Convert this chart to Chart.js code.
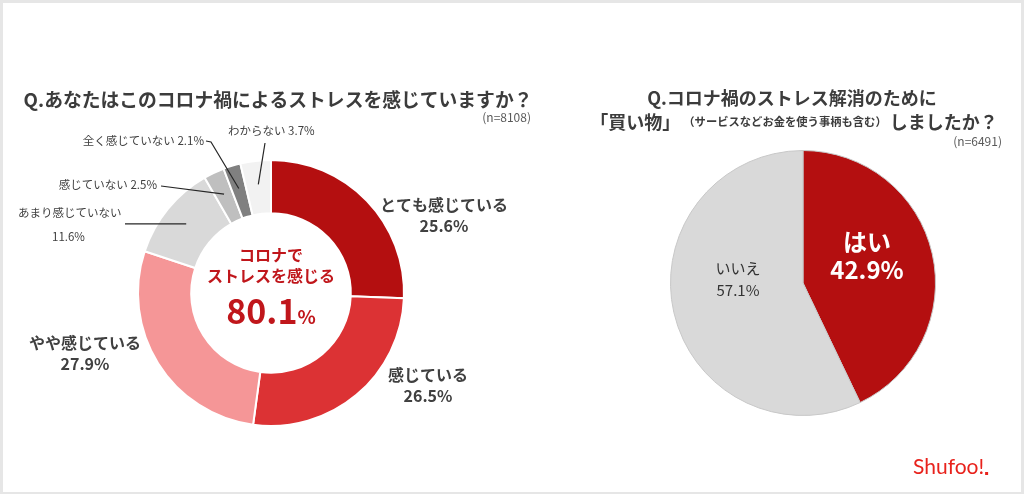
<!DOCTYPE html>
<html><head><meta charset="utf-8">
<script src="https://cdn.jsdelivr.net/npm/chart.js@4/dist/chart.umd.min.js"></script>
<style>
html,body{margin:0;padding:0;background:#fff;}
#wrap{position:relative;width:1024px;height:494px;overflow:hidden;}
#frame{position:absolute;left:0;top:0;width:1018px;height:489px;border:3px solid #e6e6e6;border-right-width:3px;}
canvas{position:absolute;left:0;top:0;}
</style></head>
<body><div id="wrap"><div id="frame"></div>
<canvas id="c1" width="1024" height="494"></canvas>
<canvas id="c2" width="1024" height="494"></canvas></div>
<script>
// ---- data ----
const stressLabels = ['とても感じている','感じている','やや感じている','あまり感じていない','感じていない','全く感じていない','わからない'];
const stressValues = [25.6, 26.5, 27.9, 11.6, 2.5, 2.1, 3.7];
const stressTotal = '80.1';
const shopLabels = ['はい','いいえ'];
const shopValues = [42.9, 57.1];
const title1 = 'Q.あなたはこのコロナ禍によるストレスを感じていますか？';
const n1 = '(n=8108)';
const title2a = 'Q.コロナ禍のストレス解消のために';
const title2b = ['「買い物」','（サービスなどお金を使う事柄も含む）','しましたか？'];
const n2 = '(n=6491)';

const FONT = '"Noto Sans CJK JP","Noto Sans",sans-serif';
const stressColors = ['#b40f10','#dc3234','#f59697','#d9d9d9','#bfbfbf','#808080','#f2f2f2'];
const shopColors = ['#b40f10','#d9d9d9'];
const TXT = '#404040';

function pct(v){return v.toFixed(1)+'%';}

function arcPoint(arc, frac, rr){
  const a = arc.startAngle + (arc.endAngle-arc.startAngle)*frac;
  return {x: arc.x + Math.cos(a)*rr, y: arc.y + Math.sin(a)*rr};
}

const donutText = {
  id:'donutText',
  afterDraw(chart){
    const ctx = chart.ctx;
    const arcs = chart.getDatasetMeta(0).data;
    ctx.save();
    ctx.textBaseline='middle';
    // titles
    ctx.fillStyle='#3c3c3c';
    ctx.font='bold 18.8px '+FONT;
    ctx.textAlign='center';
    ctx.fillText(title1, 278, 100);
    ctx.font='12px '+FONT; ctx.fillStyle='#595959'; ctx.textAlign='right';
    ctx.fillText(n1, 531, 117);
    // big labels
    ctx.fillStyle=TXT; ctx.textAlign='center';
    const big = [
      {i:0, x:444, y:205},
      {i:1, x:428, y:375},
      {i:2, x:85, y:343}
    ];
    ctx.font='bold 16px '+FONT;
    big.forEach(b=>{
      ctx.fillText(stressLabels[b.i], b.x, b.y);
      ctx.fillText(pct(stressValues[b.i]), b.x, b.y+21);
    });
    // small labels with leader lines
    ctx.font='11.5px '+FONT;
    ctx.strokeStyle='#262626'; ctx.lineWidth=1.2;
    const rMid = (arcs[0].innerRadius+arcs[0].outerRadius)/2 + 3;
    // あまり感じていない
    ctx.textAlign='left';
    ctx.fillText(stressLabels[3], 18, 213);
    ctx.fillText(pct(stressValues[3]), 52, 237);
    let p = arcPoint(arcs[3], 0.5, rMid);
    ctx.beginPath(); ctx.moveTo(125, p.y); ctx.lineTo(p.x, p.y); ctx.stroke();
    // 感じていない
    ctx.textAlign='right';
    ctx.fillText(stressLabels[4]+' '+pct(stressValues[4]), 157, 185);
    p = arcPoint(arcs[4], 0.5, rMid);
    ctx.beginPath(); ctx.moveTo(161, 186); ctx.lineTo(p.x, p.y); ctx.stroke();
    // 全く感じていない
    ctx.fillText(stressLabels[5]+' '+pct(stressValues[5]), 204, 141);
    p = arcPoint(arcs[5], 0.5, rMid);
    ctx.beginPath(); ctx.moveTo(206, 141); ctx.lineTo(211, 142); ctx.lineTo(p.x, p.y); ctx.stroke();
    // わからない
    ctx.textAlign='left';
    ctx.fillText(stressLabels[6]+' '+pct(stressValues[6]), 228, 131);
    p = arcPoint(arcs[6], 0.5, rMid);
    ctx.beginPath(); ctx.moveTo(265, 143); ctx.lineTo(p.x, p.y); ctx.stroke();
    // center
    const cx = arcs[0].x, cy = arcs[0].y;
    ctx.fillStyle='#c0161b'; ctx.textAlign='center';
    ctx.font='bold 16px '+FONT;
    ctx.fillText('コロナで', cx, cy-38);
    ctx.fillText('ストレスを感じる', cx, cy-17);
    ctx.font='bold 34px '+FONT;
    const w1 = ctx.measureText(stressTotal).width;
    ctx.font='bold 19px '+FONT;
    const w2 = ctx.measureText('%').width;
    const sx = cx - (w1+w2)/2;
    ctx.textAlign='left'; ctx.textBaseline='alphabetic';
    ctx.font='bold 34px '+FONT;
    ctx.fillText(stressTotal, sx, cy+31);
    ctx.font='bold 19px '+FONT;
    ctx.fillText('%', sx+w1, cy+31);
    ctx.restore();
  }
};

new Chart(document.getElementById('c1'), {
  type:'doughnut',
  data:{labels:stressLabels, datasets:[{data:stressValues, backgroundColor:stressColors, borderColor:'#ffffff', borderWidth:2}]},
  options:{responsive:false, animation:false, cutout:'60%',
    layout:{padding:{left:137,right:619,top:159,bottom:67}},
    plugins:{legend:{display:false}, tooltip:{enabled:false}}},
  plugins:[donutText]
});

const pieText = {
  id:'pieText',
  afterDraw(chart){
    const ctx = chart.ctx;
    ctx.save();
    ctx.textBaseline='middle';
    ctx.fillStyle='#3c3c3c'; ctx.textAlign='center';
    ctx.font='bold 18px '+FONT;
    ctx.fillText(title2a, 792, 98);
    // line 2, mixed sizes
    const fonts = ['bold 18px '+FONT, 'bold 11.3px '+FONT, 'bold 18px '+FONT];
    const widths = title2b.map((t,i)=>{ctx.font=fonts[i]; return ctx.measureText(t).width;});
    const gap = 3;
    const total = widths.reduce((a,b)=>a+b,0)+gap*2;
    let x = 794 - total/2;
    ctx.textAlign='left';
    title2b.forEach((t,i)=>{ctx.font=fonts[i]; ctx.fillText(t, x, 122); x += widths[i]+gap;});
    ctx.font='12px '+FONT; ctx.fillStyle='#595959'; ctx.textAlign='right';
    ctx.fillText(n2, 1002, 141);
    // slice labels
    ctx.textAlign='center';
    ctx.fillStyle='#ffffff';
    ctx.font='bold 24px '+FONT;
    ctx.fillText(shopLabels[0], 867, 242);
    ctx.fillText(pct(shopValues[0]), 867, 270);
    ctx.fillStyle='#333333';
    ctx.font='15px '+FONT;
    ctx.fillText(shopLabels[1], 738, 268);
    ctx.fillText(pct(shopValues[1]), 738, 290);
    // logo
    ctx.fillStyle='#e8221c'; ctx.textAlign='left';
    ctx.font='21px "Lato","DejaVu Sans",sans-serif';
    ctx.fillText('Shufoo!', 913, 467);
    const lw = ctx.measureText('Shufoo!').width;
    ctx.fillRect(913+lw+1, 472, 3, 3);
    ctx.restore();
  }
};

new Chart(document.getElementById('c2'), {
  type:'pie',
  data:{labels:shopLabels, datasets:[{data:shopValues, backgroundColor:shopColors, borderColor:'#c8c8c8', borderWidth:1}]},
  options:{responsive:false, animation:false,
    layout:{padding:{left:670,right:88,top:150,bottom:78}},
    plugins:{legend:{display:false}, tooltip:{enabled:false}}},
  plugins:[pieText]
});
</script></body></html>
